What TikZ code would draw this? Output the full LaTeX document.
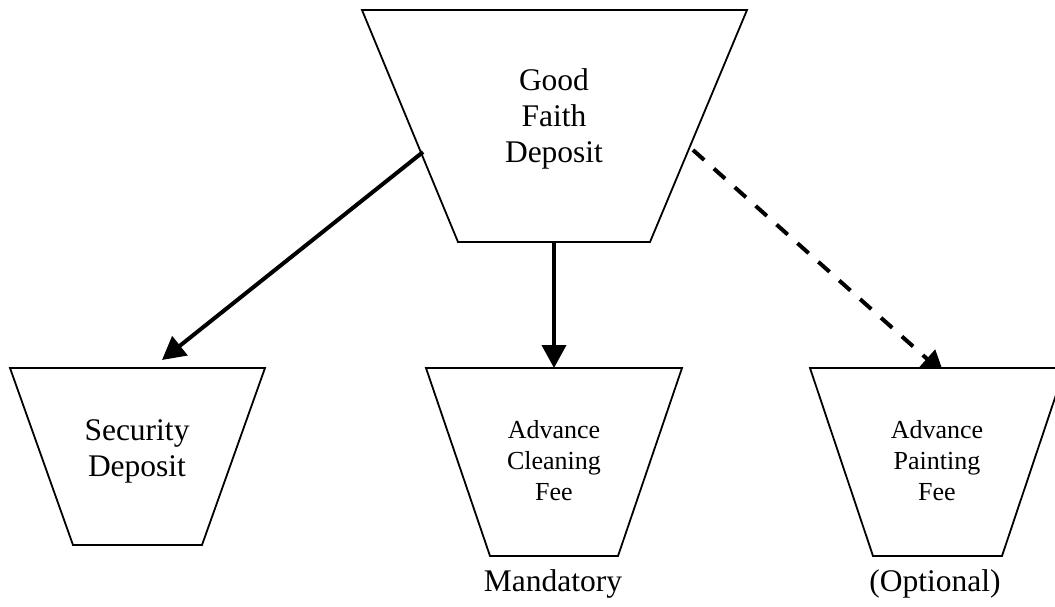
\documentclass[tikz,border=0pt]{standalone}
\usepackage{fontspec}
\setmainfont{Liberation Serif}
\usetikzlibrary{arrows.meta}
\begin{document}
\begin{tikzpicture}[x=1pt,y=-1pt,
  box/.style={draw=black,line width=1.8pt,fill=white,line join=miter},
  bigtext/.style={font=\fontsize{31.5}{36}\selectfont,align=center,inner sep=0pt},
  smalltext/.style={font=\fontsize{26}{31}\selectfont,align=center,inner sep=0pt},
  conn/.style={line width=4pt,-{Triangle[length=23pt,width=24pt]}},
  dconn/.style={conn,dash pattern=on 15pt off 13pt},
]
\useasboundingbox (0,0) rectangle (1055,606);
\clip (0,0) rectangle (1055,606);

% top trapezoid
\draw[box] (362,10) -- (747,10) -- (650,242) -- (458,242) -- cycle;
\node[bigtext] (gfd) at (554,119) {Good\\Faith\\Deposit};

% connector end points
\coordinate (gfdL) at (423,152);
\coordinate (gfdR) at (693,150);
\coordinate (gfdB) at (554,242);
\coordinate (sdT) at (162,360);
\coordinate (acfT) at (554,368);
\coordinate (apfT) at (944,374);

\draw[conn] (gfdL) -- (sdT);
\draw[conn] (gfdB) -- (acfT);
\draw[dconn] (gfdR) -- (apfT);

% bottom trapezoids
\draw[box] (10,368) -- (265,368) -- (202,545) -- (73,545) -- cycle;
\node[bigtext] (sd) at (137,451) {Security\\Deposit};

\draw[box] (426,368) -- (682,368) -- (618,556) -- (490,556) -- cycle;
\node[smalltext] (acf) at (554,461) {Advance\\Cleaning\\Fee};

\draw[box] (810,368) -- (1065,368) -- (1002,556) -- (873,556) -- cycle;
\node[smalltext] (apf) at (937,461) {Advance\\Painting\\Fee};

% labels
\node[bigtext,anchor=base] (mand) at (553,591) {Mandatory};
\node[bigtext,anchor=base] (opt) at (935,591) {(Optional)};
\end{tikzpicture}
\end{document}
